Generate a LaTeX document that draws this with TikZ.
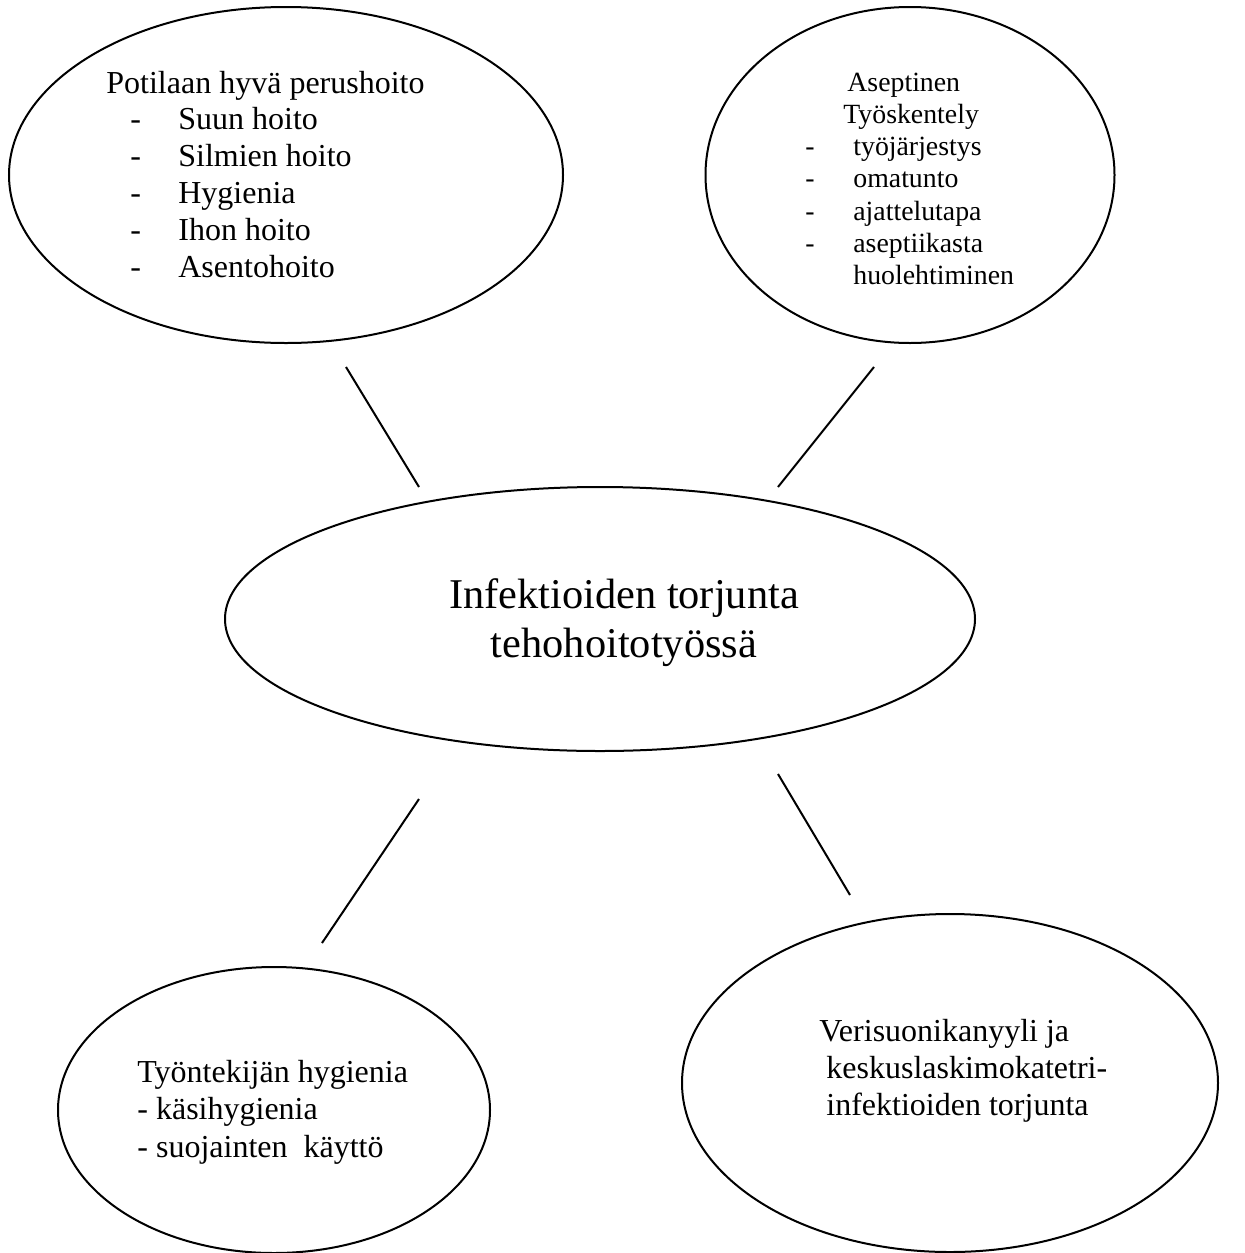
\documentclass[tikz,border=0pt]{standalone}
\usepackage{fontspec}
\setmainfont{Liberation Serif}
\usetikzlibrary{shapes.geometric}
\begin{document}
\begin{tikzpicture}[x=0.5pt,y=-0.5pt,
  bubble/.style={ellipse,draw,line width=1pt,inner sep=0pt},
  conn/.style={line width=1pt},
  txt/.style={anchor=base west,inner sep=0pt,font=\fontsize{16pt}{18pt}\selectfont},
  txtsmall/.style={anchor=base west,inner sep=0pt,font=\fontsize{13.9pt}{16pt}\selectfont},
  txtbig/.style={anchor=base,inner sep=0pt,font=\fontsize{21.2pt}{24pt}\selectfont}]
\useasboundingbox (0,0) rectangle (1244,1253);

% ellipses
\node[bubble,minimum width=277pt,minimum height=168pt] (tl) at (286,175) {};
\node[bubble,minimum width=204.5pt,minimum height=168pt] (tr) at (910,175) {};
\node[bubble,minimum width=375pt,minimum height=132pt] (c) at (600,619) {};
\node[bubble,minimum width=216pt,minimum height=143pt] (bl) at (274,1110) {};
\node[bubble,minimum width=268pt,minimum height=169pt] (br) at (950,1083) {};

% top-left text
\node[txt] (tl0) at (106,93) {Potilaan hyvä perushoito};
\node[txt] (tl1) at (130,129.8) {\makebox[24pt][l]{-}Suun hoito};
\node[txt] (tl2) at (130,166.6) {\makebox[24pt][l]{-}Silmien hoito};
\node[txt] (tl3) at (130,203.4) {\makebox[24pt][l]{-}Hygienia};
\node[txt] (tl4) at (130,240.2) {\makebox[24pt][l]{-}Ihon hoito};
\node[txt] (tl5) at (130,277) {\makebox[24pt][l]{-}Asentohoito};

% top-right text
\node[txtsmall] (tr0) at (847,91) {Aseptinen};
\node[txtsmall] (tr1) at (843,123.3) {Työskentely};
\node[txtsmall] (tr2) at (805,155.6) {\makebox[24pt][l]{-}työjärjestys};
\node[txtsmall] (tr3) at (805,187.9) {\makebox[24pt][l]{-}omatunto};
\node[txtsmall] (tr4) at (805,220.2) {\makebox[24pt][l]{-}ajattelutapa};
\node[txtsmall] (tr5) at (805,252.5) {\makebox[24pt][l]{-}aseptiikasta};
\node[txtsmall] (tr6) at (853,284.8) {huolehtiminen};

% centre text
\node[txtbig] (c0) at (624,608) {Infektioiden torjunta};
\node[txtbig] (c1) at (624,657) {tehohoitotyössä};

% bottom-left text
\node[txt] (bl0) at (137,1082) {Työntekijän hygienia};
\node[txt] (bl1) at (137,1119.5) {- käsihygienia};
\node[txt] (bl2) at (137,1157) {- suojainten\ \ käyttö};

% bottom-right text
\node[txt] (br0) at (819,1041) {Verisuonikanyyli ja};
\node[txt] (br1) at (826,1078) {keskuslaskimokatetri-};
\node[txt] (br2) at (826,1115) {infektioiden torjunta};

% connectors
\coordinate (a1) at (346,367);
\coordinate (a2) at (419,487);
\coordinate (b1) at (874,367);
\coordinate (b2) at (778,487);
\coordinate (d1) at (419,799);
\coordinate (d2) at (322,943);
\coordinate (e1) at (778,774);
\coordinate (e2) at (850,895);
\draw[conn] (a1) -- (a2);
\draw[conn] (b1) -- (b2);
\draw[conn] (d1) -- (d2);
\draw[conn] (e1) -- (e2);
\end{tikzpicture}
\end{document}
